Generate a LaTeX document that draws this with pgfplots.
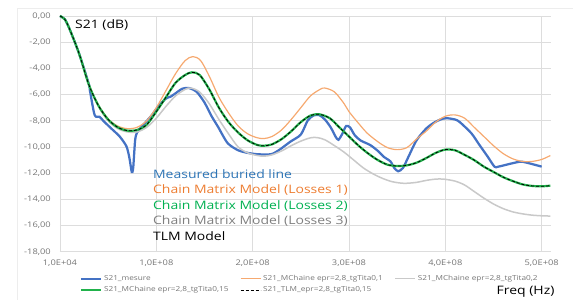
\documentclass[border=0pt]{standalone}
\usepackage{pgfplots}
\pgfplotsset{compat=1.18}
\usepackage{fontspec}
\setmainfont{Open Sans}[FakeStretch=1.2]
\definecolor{cblue}{HTML}{4472C4}
\definecolor{corange}{HTML}{F6A970}
\definecolor{cgray}{HTML}{C9C9C9}
\definecolor{cgreen}{HTML}{21B24B}
\definecolor{tblue}{HTML}{2E75B6}
\definecolor{torange}{HTML}{ED7D31}
\definecolor{tgreen}{HTML}{00B050}
\definecolor{tgray}{HTML}{7F7F7F}
\definecolor{ticklab}{HTML}{767676}
\definecolor{gridc}{HTML}{DDDDDD}
\begin{document}
\begin{tikzpicture}
\begin{axis}[
  width=491bp, height=236bp, scale only axis,
  xmin=0, xmax=5.093, ymin=-18, ymax=0,
  clip=false,
  axis line style={draw=none},
  major tick length=0pt,
  grid=major,
  major grid style={draw=gridc, line width=0.75bp},
  xtick={0,1,2,3,4,5},
  xticklabels={{1,0E+04},{1,0E+08},{2,0E+08},{3,0E+08},{4,0E+08},{5,0E+08}},
  ytick={-18,-16,-14,-12,-10,-8,-6,-4,-2,0},
  yticklabels={{-18,00},{-16,00},{-14,00},{-12,00},{-10,00},{-8,00},{-6,00},{-4,00},{-2,00},{0,00}},
  xticklabel style={anchor=north, inner sep=0pt, yshift=-7.5bp, font=\fontsize{7.8}{9}\selectfont, text=ticklab},
  yticklabel style={anchor=east, inner sep=0pt, xshift=-9bp, font=\fontsize{7.8}{9}\selectfont, text=ticklab},
  legend columns=3,
  legend cell align=left,
  legend image code/.code={\draw[#1,sharp plot] (0bp,0bp) -- (20bp,0bp);},
  legend style={at={(axis description cs:0.04,-0.097)}, anchor=north west,
    draw=none, fill=none, inner sep=0pt,
    font=\fontsize{6.9}{8}\selectfont, text=ticklab,
    nodes={inner sep=0.5bp, text height=5bp, text depth=1.5bp},
    row sep=4bp,
    /tikz/every odd column/.append style={column sep=1.5bp},
    /tikz/every even column/.append style={column sep=11bp}},
]
% Measured
\addplot[cblue, line width=2.25bp, smooth, tension=0.45] coordinates {
(0,0)(0.05,-0.25)(0.1,-1.0)(0.2,-2.9)(0.3,-5.2)(0.31,-5.65)(0.36,-7.56)(0.41,-7.69)(0.45,-8.0)(0.52,-8.5)(0.62,-9.2)(0.69,-9.95)(0.72,-10.8)(0.745,-11.9)(0.76,-11.6)(0.78,-9.5)(0.8,-8.9)(0.86,-8.35)(0.95,-7.6)(1.02,-6.9)(1.1,-6.3)(1.15,-6.15)(1.2,-5.9)(1.27,-5.55)(1.34,-5.5)(1.42,-5.8)(1.5,-6.6)(1.57,-7.6)(1.64,-8.45)(1.74,-9.7)(1.85,-10.25)(1.95,-10.45)(2.05,-10.55)(2.19,-10.55)(2.28,-10.2)(2.39,-9.6)(2.5,-9.05)(2.57,-8.0)(2.63,-7.6)(2.69,-7.56)(2.75,-7.9)(2.81,-8.5)(2.86,-9.2)(2.89,-9.45)(2.93,-9.0)(2.97,-8.4)(3.01,-8.5)(3.06,-9.1)(3.12,-9.5)(3.22,-9.85)(3.3,-10.3)(3.36,-10.74)(3.43,-11.1)(3.47,-11.6)(3.51,-11.85)(3.56,-11.6)(3.62,-10.7)(3.7,-9.5)(3.8,-8.6)(3.88,-8.15)(3.95,-7.9)(4.01,-7.8)(4.1,-7.9)(4.15,-8.1)(4.27,-8.95)(4.35,-9.8)(4.44,-10.74)(4.51,-11.5)(4.55,-11.5)(4.69,-11.25)(4.79,-11.12)(4.9,-11.3)(5.0,-11.5)
};
\addlegendentry{S21\_mesure}
% Losses 1
\addplot[corange, line width=1.2bp, smooth] coordinates {
(0,0)(0.05,-0.25)(0.1,-1.0)(0.2,-2.9)(0.3,-5.2)(0.4,-6.8)(0.5,-7.85)(0.6,-8.4)(0.7,-8.6)(0.8,-8.5)(0.9,-8.0)(1.0,-7.0)(1.1,-5.7)(1.2,-4.4)(1.3,-3.4)(1.38,-3.1)(1.46,-3.4)(1.55,-4.6)(1.65,-6.2)(1.75,-7.4)(1.85,-8.4)(1.95,-9.0)(2.05,-9.3)(2.12,-9.35)(2.2,-9.2)(2.3,-8.7)(2.4,-7.9)(2.5,-7.0)(2.6,-6.1)(2.7,-5.6)(2.75,-5.5)(2.85,-5.8)(2.95,-6.7)(3.0,-7.3)(3.1,-8.2)(3.19,-8.95)(3.3,-9.6)(3.4,-10.05)(3.5,-10.2)(3.6,-10.05)(3.7,-9.4)(3.8,-8.8)(3.9,-8.1)(4.0,-7.65)(4.1,-7.55)(4.2,-7.8)(4.3,-8.5)(4.4,-9.2)(4.5,-9.9)(4.6,-10.5)(4.7,-10.9)(4.8,-11.1)(4.9,-11.1)(5.0,-10.95)(5.09,-10.65)
};
\addlegendentry{S21\_MChaine epr=2,8\_tgTita0,1}
% Losses 3
\addplot[cgray, line width=1.5bp, smooth] coordinates {
(0,0)(0.05,-0.25)(0.1,-1.0)(0.2,-2.9)(0.3,-5.25)(0.4,-6.9)(0.5,-8.0)(0.6,-8.6)(0.7,-8.85)(0.8,-8.85)(0.9,-8.5)(1.0,-7.8)(1.1,-6.9)(1.2,-6.1)(1.3,-5.6)(1.36,-5.5)(1.45,-5.8)(1.55,-6.7)(1.65,-7.9)(1.75,-9.0)(1.85,-10.0)(1.95,-10.45)(2.05,-10.65)(2.12,-10.7)(2.2,-10.6)(2.3,-10.3)(2.4,-9.9)(2.5,-9.55)(2.6,-9.3)(2.67,-9.28)(2.75,-9.45)(2.85,-9.9)(2.95,-10.4)(3.05,-11.0)(3.15,-11.6)(3.25,-12.05)(3.35,-12.4)(3.45,-12.65)(3.57,-12.77)(3.7,-12.7)(3.8,-12.55)(3.9,-12.45)(3.98,-12.45)(4.1,-12.6)(4.2,-12.9)(4.3,-13.4)(4.4,-13.9)(4.5,-14.35)(4.6,-14.7)(4.7,-14.95)(4.8,-15.1)(4.9,-15.2)(5.0,-15.25)(5.09,-15.27)
};
\addlegendentry{S21\_MChaine epr=2,8\_tgTita0,2}
% Losses 2
\addplot[cgreen, line width=2.2bp, smooth] coordinates {
(0,0)(0.05,-0.25)(0.1,-1.0)(0.2,-2.9)(0.3,-5.25)(0.4,-6.85)(0.5,-7.9)(0.6,-8.5)(0.7,-8.75)(0.8,-8.7)(0.9,-8.3)(1.0,-7.3)(1.1,-6.2)(1.2,-5.1)(1.3,-4.5)(1.37,-4.3)(1.45,-4.5)(1.55,-5.6)(1.65,-7.0)(1.75,-8.1)(1.85,-8.9)(1.95,-9.5)(2.05,-9.85)(2.12,-9.9)(2.2,-9.8)(2.3,-9.4)(2.4,-8.8)(2.5,-8.1)(2.6,-7.6)(2.69,-7.5)(2.8,-7.8)(2.9,-8.5)(3.0,-9.2)(3.1,-9.9)(3.2,-10.5)(3.3,-11.0)(3.4,-11.35)(3.5,-11.45)(3.6,-11.4)(3.7,-11.2)(3.8,-10.85)(3.9,-10.45)(4.0,-10.2)(4.1,-10.25)(4.2,-10.6)(4.3,-11.0)(4.4,-11.5)(4.5,-11.9)(4.6,-12.3)(4.7,-12.6)(4.8,-12.85)(4.9,-12.97)(5.0,-13.0)(5.09,-12.95)
};
\addlegendentry{S21\_MChaine epr=2,8\_tgTita0,15}
% TLM
\addplot[black, line width=0.8bp, dash pattern=on 3bp off 2bp, smooth] coordinates {
(0,0)(0.05,-0.25)(0.1,-1.0)(0.2,-2.9)(0.3,-5.25)(0.4,-6.85)(0.5,-7.9)(0.6,-8.5)(0.7,-8.75)(0.8,-8.7)(0.9,-8.3)(1.0,-7.3)(1.1,-6.2)(1.2,-5.1)(1.3,-4.5)(1.37,-4.3)(1.45,-4.5)(1.55,-5.6)(1.65,-7.0)(1.75,-8.1)(1.85,-8.9)(1.95,-9.5)(2.05,-9.85)(2.12,-9.9)(2.2,-9.8)(2.3,-9.4)(2.4,-8.8)(2.5,-8.1)(2.6,-7.6)(2.69,-7.5)(2.8,-7.8)(2.9,-8.5)(3.0,-9.2)(3.1,-9.9)(3.2,-10.5)(3.3,-11.0)(3.4,-11.35)(3.5,-11.45)(3.6,-11.4)(3.7,-11.2)(3.8,-10.85)(3.9,-10.45)(4.0,-10.2)(4.1,-10.25)(4.2,-10.6)(4.3,-11.0)(4.4,-11.5)(4.5,-11.9)(4.6,-12.3)(4.7,-12.6)(4.8,-12.85)(4.9,-12.97)(5.0,-13.0)(5.09,-12.95)
};
\addlegendentry{S21\_TLM\_epr=2,8\_tgTita0,15}
\end{axis}
% chart area frame and size
\path (-60bp,-48bp) rectangle (513bp,252bp);
\draw[black!7, line width=0.75bp] (-43bp,-48bp) -- (-43bp,244bp) -- (513bp,244bp);
% annotations
\node[anchor=base west, inner sep=0pt, font=\fontsize{11.7}{14}\selectfont] at (15bp,223bp) {S21 (dB)};
\node[anchor=base east, inner sep=0pt, font=\fontsize{11.7}{14}\selectfont] at (495bp,-43bp) {Freq (Hz)};
\begin{scope}[every node/.style={anchor=base west, inner sep=0pt, font=\fontsize{11.7}{14}\selectfont}]
\node[text=tblue] at (93bp,73bp) {Measured buried line};
\node[text=torange] at (93bp,58bp) {Chain Matrix Model (Losses 1)};
\node[text=tgreen] at (93bp,42bp) {Chain Matrix Model (Losses 2)};
\node[text=tgray] at (93bp,27bp) {Chain Matrix Model (Losses 3)};
\node[text=black] at (93bp,11bp) {TLM Model};
\end{scope}
\end{tikzpicture}
\end{document}
